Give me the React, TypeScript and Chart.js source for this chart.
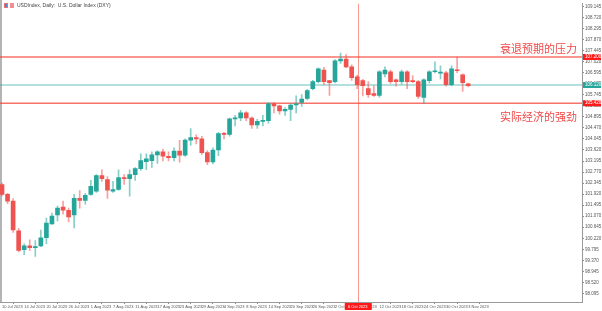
import React, { useEffect, useRef } from 'react';
import { Chart, registerables } from 'chart.js';

Chart.register(...registerables);

// Daily candles, 10 Jul 2023 .. 3 Nov 2023 (bar index 0..84)
const opens = [
  102.29, 101.91, 101.65, 100.51, 99.78, 99.93, 99.86, 99.93, 100.24, 100.77,
  101.12, 101.42, 101.30, 101.12, 101.76, 101.68, 101.91, 102.03, 102.63, 102.48,
  102.03, 102.10, 102.56, 102.52, 102.67, 102.90, 103.17, 103.21, 103.43, 103.55,
  103.38, 103.32, 103.58, 103.42, 104.00, 104.10, 104.05, 103.52, 103.16, 103.62,
  104.25, 104.22, 104.82, 104.85, 105.05, 104.85, 104.58, 104.72, 104.75, 105.40,
  105.32, 105.12, 105.18, 105.35, 105.45, 105.60, 105.98, 106.25, 106.70, 106.29,
  106.25, 107.05, 107.12, 106.82, 106.44, 106.29, 105.98, 105.79, 105.72, 106.55,
  106.63, 106.32, 106.25, 106.63, 106.29, 106.25, 105.64, 106.29, 106.63, 106.58,
  106.59, 106.13, 106.70, 106.51, 106.17,
];
const highs = [
  102.35, 101.95, 101.75, 100.60, 100.01, 100.16, 100.13, 100.54, 101.00, 101.19,
  101.46, 101.65, 101.38, 101.91, 102.06, 101.95, 102.45, 102.67, 102.86, 102.60,
  102.41, 102.86, 102.67, 102.86, 102.94, 103.47, 103.47, 103.55, 103.60, 103.65,
  103.55, 103.70, 103.99, 104.05, 104.44, 104.20, 104.15, 103.60, 103.70, 104.30,
  104.30, 104.85, 104.95, 105.15, 105.10, 104.90, 104.80, 104.95, 105.45, 105.45,
  105.35, 105.25, 105.40, 105.70, 105.75, 105.95, 106.30, 106.78, 106.80, 106.30,
  107.10, 107.35, 107.29, 106.90, 106.50, 106.34, 106.25, 106.09, 106.68, 106.82,
  106.70, 106.36, 106.70, 106.68, 106.48, 106.30, 106.36, 106.68, 107.01, 106.86,
  106.65, 106.86, 107.20, 106.55, 106.20,
];
const lows = [
  101.85, 101.55, 100.45, 99.70, 99.59, 99.75, 99.52, 99.90, 100.01, 100.75,
  100.89, 101.15, 100.85, 100.62, 101.38, 101.53, 101.87, 101.99, 102.41, 101.76,
  101.99, 102.06, 102.29, 101.84, 102.45, 102.83, 102.86, 102.95, 103.10, 103.20,
  103.20, 103.20, 103.15, 103.38, 103.80, 103.85, 103.45, 103.05, 103.08, 103.40,
  104.05, 104.15, 104.55, 104.75, 104.75, 104.45, 104.45, 104.55, 104.65, 105.05,
  105.00, 104.95, 104.75, 105.05, 105.30, 105.55, 105.93, 106.20, 106.13, 105.72,
  106.20, 106.95, 106.78, 106.30, 105.98, 105.70, 105.64, 105.68, 105.65, 106.43,
  106.18, 106.08, 106.15, 105.98, 106.21, 105.60, 105.41, 106.20, 106.59, 106.36,
  106.08, 106.09, 106.60, 105.87, 106.05,
];
const closes = [
  101.91, 101.65, 100.54, 99.75, 99.93, 99.86, 99.90, 100.24, 100.81, 101.08,
  101.38, 101.30, 101.04, 101.76, 101.68, 101.87, 102.22, 102.63, 102.52, 102.07,
  102.10, 102.56, 102.52, 102.67, 102.90, 103.21, 103.28, 103.43, 103.55, 103.38,
  103.32, 103.58, 103.42, 104.00, 104.10, 104.05, 103.52, 103.16, 103.62, 104.25,
  104.22, 104.82, 104.85, 105.05, 104.85, 104.58, 104.72, 104.75, 105.40, 105.32,
  105.12, 105.18, 105.35, 105.40, 105.58, 105.91, 106.25, 106.74, 106.25, 106.21,
  107.05, 107.12, 106.82, 106.40, 106.13, 106.10, 105.75, 105.72, 106.63, 106.70,
  106.25, 106.25, 106.63, 106.25, 106.25, 105.68, 106.32, 106.63, 106.67, 106.61,
  106.13, 106.74, 106.67, 106.21, 106.10,
];

// x-axis date labels, one every 4 bars
const dateTickIndex = [0, 4, 8, 12, 16, 20, 24, 28, 32, 36, 40, 44, 48, 52, 56, 60, 64, 68, 72, 76, 80, 84];
const dateLabels = [
  '10 Jul 2023', '14 Jul 2023', '20 Jul 2023', '26 Jul 2023', '1 Aug 2023', '7 Aug 2023',
  '11 Aug 2023', '17 Aug 2023', '23 Aug 2023', '29 Aug 2023', '4 Sep 2023', '8 Sep 2023',
  '14 Sep 2023', '20 Sep 2023', '26 Sep 2023', '2 Oct 2023', '6 Oct 2023', '12 Oct 2023',
  '18 Oct 2023', '24 Oct 2023', '30 Oct 2023', '3 Nov 2023',
];

// price scale tick labels
const priceTicks = [
  109.145, 108.72, 108.295, 107.87, 107.445, 107.02, 106.595, 106.17, 105.745,
  105.32, 104.895, 104.47, 104.045, 103.62, 103.195, 102.77, 102.345, 101.92,
  101.495, 101.07, 100.645, 100.22, 99.795, 99.37, 98.945, 98.52, 98.095,
];

// horizontal levels and annotation texts
const resistanceLevel = 107.2;
const supportLevel = 105.42;
const currentPrice = 106.12;
const crosshairBar = 64.1;
const crosshairLabel = '6 Oct 2023';
const resistanceText = '衰退预期的压力';
const supportText = '实际经济的强劲';
const chartTitle = 'USDIndex, Daily:  U.S. Dollar Index (DXY)';

const UP = '#26a69a';
const DOWN = '#ef5350';
const UP_WICK = 'rgba(38,166,154,0.55)';
const DOWN_WICK = 'rgba(239,83,80,0.55)';
const Y_FONT = { size: 4.5, family: 'Liberation Sans' };
const X_FONT = { size: 4, family: 'Liberation Sans' };

const overlay = {
  id: 'overlay',
  beforeDatasetsDraw(chart: any) {
    const { ctx, chartArea: a, scales } = chart;
    const y = scales.y;
    const x = scales.x;
    ctx.save();
    ctx.fillStyle = '#b4b4b4';
    ctx.fillRect(0, 0, 2, a.bottom);
    ctx.strokeStyle = 'rgba(38,166,154,0.35)';
    ctx.lineWidth = 2;
    let py = y.getPixelForValue(currentPrice);
    ctx.beginPath(); ctx.moveTo(a.left, py); ctx.lineTo(a.right, py); ctx.stroke();
    ctx.strokeStyle = 'rgba(244,67,54,0.75)';
    ctx.lineWidth = 1.5;
    for (const lv of [resistanceLevel, supportLevel]) {
      py = y.getPixelForValue(lv);
      ctx.beginPath(); ctx.moveTo(a.left, py); ctx.lineTo(a.right, py); ctx.stroke();
    }
    const vx = Math.round(x.getPixelForValue(crosshairBar)) + 0.5;
    ctx.strokeStyle = 'rgba(244,67,54,0.55)';
    ctx.lineWidth = 1;
    ctx.beginPath(); ctx.moveTo(vx, a.top); ctx.lineTo(vx, a.bottom); ctx.stroke();
    ctx.restore();
  },
  afterDraw(chart: any) {
    const { ctx, chartArea: a, scales } = chart;
    const y = scales.y;
    const x = scales.x;
    ctx.save();
    const boxes: [number, string][] = [
      [resistanceLevel, '#ff1a1a'],
      [currentPrice, '#26a69a'],
      [supportLevel, '#ff1a1a'],
    ];
    ctx.font = '4.5px "Liberation Sans"';
    ctx.textBaseline = 'middle';
    ctx.textAlign = 'left';
    for (const [v, c] of boxes) {
      const py = y.getPixelForValue(v);
      ctx.fillStyle = c;
      ctx.fillRect(a.right + 1, py - 3, 18, 6);
      ctx.fillStyle = '#fff';
      ctx.fillText(v.toFixed(3), a.right + 3, py);
    }
    const vx = x.getPixelForValue(crosshairBar);
    ctx.fillStyle = '#ff1a1a';
    ctx.fillRect(vx - 13, a.bottom + 1, 27, 7);
    ctx.fillStyle = '#fff';
    ctx.font = '4px "Liberation Sans"';
    ctx.textAlign = 'center';
    ctx.fillText(crosshairLabel, vx, a.bottom + 4.5);
    ctx.fillStyle = '#f04a4a';
    ctx.font = '11px "Noto Sans CJK SC"';
    ctx.textAlign = 'right';
    ctx.textBaseline = 'alphabetic';
    ctx.fillText(resistanceText, a.right - 5, y.getPixelForValue(resistanceLevel) - 4);
    ctx.fillText(supportText, a.right - 5, y.getPixelForValue(supportLevel) + 18);
    ctx.fillStyle = '#e57373';
    ctx.fillRect(4, 3, 4, 5);
    ctx.fillStyle = '#5c7fd6';
    ctx.fillRect(5, 4, 2, 3);
    ctx.fillStyle = '#ef8f8f';
    ctx.fillRect(10, 3, 4, 5);
    ctx.fillStyle = '#444';
    ctx.font = '5px "Liberation Sans"';
    ctx.textAlign = 'left';
    ctx.textBaseline = 'middle';
    ctx.fillText(chartTitle, 17, 5.5);
    ctx.restore();
  },
};

export default function App() {
  const ref = useRef<HTMLCanvasElement | null>(null);
  useEffect(() => {
    if (!ref.current) return;
    const idx = opens.map((_, i) => i);
    const isUp = (i: number) => closes[i] >= opens[i];
    const chart = new Chart(ref.current, {
      type: 'bar',
      data: {
        datasets: [
          {
            data: idx.map((i) => ({ x: i, y: [lows[i], highs[i]] })) as any,
            backgroundColor: idx.map((i) => (isUp(i) ? UP_WICK : DOWN_WICK)),
            barThickness: 1,
            grouped: false,
            order: 2,
          } as any,
          {
            data: idx.map((i) => ({ x: i, y: [opens[i], closes[i]] })) as any,
            backgroundColor: idx.map((i) => (isUp(i) ? UP : DOWN)),
            barThickness: 4,
            minBarLength: 1,
            grouped: false,
            order: 1,
          } as any,
        ],
      },
      options: {
        animation: false,
        responsive: false,
        layout: { padding: 0, autoPadding: false },
        plugins: { legend: { display: false }, tooltip: { enabled: false } },
        scales: {
          x: {
            type: 'linear',
            min: -0.36,
            max: 104.5,
            offset: false,
            afterBuildTicks: (s: any) => {
              s.ticks = dateTickIndex.map((v) => ({ value: v }));
            },
            afterFit: (s: any) => {
              s.height = 9;
            },
            ticks: {
              autoSkip: false,
              maxRotation: 0,
              minRotation: 0,
              align: 'start',
              padding: 0,
              font: X_FONT,
              color: '#555',
              callback: (v: any) => {
                const k = dateTickIndex.indexOf(Number(v));
                return k >= 0 ? dateLabels[k] : '';
              },
            },
            grid: { display: true, drawOnChartArea: false, drawTicks: true, tickLength: 2, color: '#888' },
            border: { display: true, color: '#9a9a9a' },
          },
          y: {
            type: 'linear',
            position: 'right',
            min: 97.768,
            max: 109.251,
            afterBuildTicks: (s: any) => {
              s.ticks = priceTicks.map((v) => ({ value: v }));
            },
            afterFit: (s: any) => {
              s.width = 20;
            },
            ticks: {
              crossAlign: 'near',
              padding: 1,
              font: Y_FONT,
              color: '#555',
              callback: (v: any) => Number(v).toFixed(3),
            },
            grid: { display: true, drawOnChartArea: false, drawTicks: true, tickLength: 2, color: '#888' },
            border: { display: true, color: '#9a9a9a' },
          },
        },
      } as any,
      plugins: [overlay],
    });
    return () => chart.destroy();
  }, []);
  return (
    <div style={{ position: 'fixed', left: 0, top: 0, width: 602, height: 311, background: '#fff' }}>
      <canvas ref={ref} width={602} height={311} style={{ display: 'block' }} />
    </div>
  );
}
